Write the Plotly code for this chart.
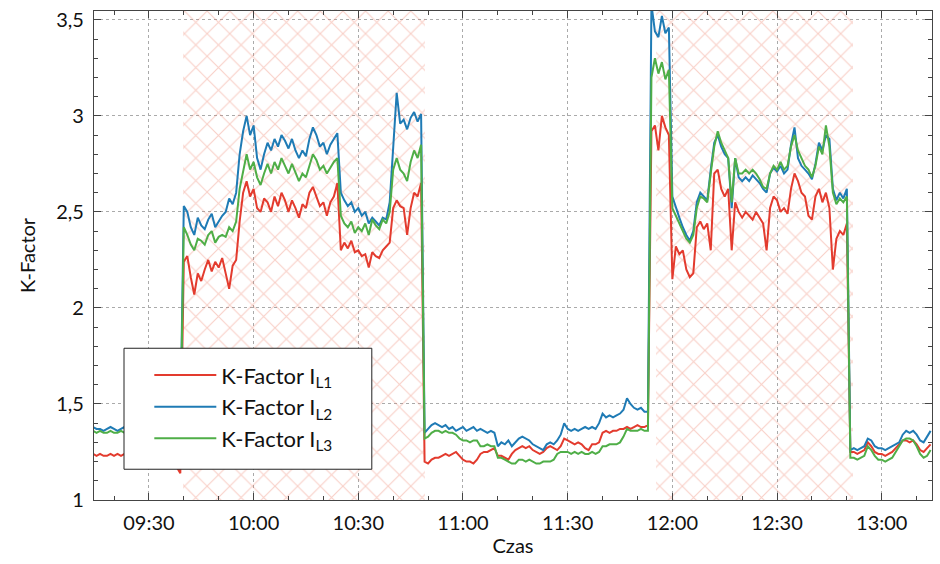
import pandas as pd
import plotly.graph_objects as go

# ---------------- data (one sample per minute, 09:14 .. 13:14) ----------------
start_time = "2021-01-01 09:14"

k_l1 = [
    # 09:14-09:39
    1.24, 1.23, 1.24, 1.23, 1.23, 1.24, 1.23, 1.24, 1.23, 1.24, 1.23, 1.23, 1.24,
    1.23, 1.23, 1.22, 1.23, 1.24, 1.23, 1.22, 1.23, 1.22, 1.21, 1.20, 1.17, 1.14,
    # 09:40-09:55
    2.24, 2.27, 2.16, 2.07, 2.18, 2.14, 2.20, 2.25, 2.19, 2.24, 2.21, 2.26, 2.18, 2.10, 2.22, 2.25,
    # 09:56-10:24
    2.45, 2.60, 2.66, 2.58, 2.62, 2.52, 2.50, 2.57, 2.55, 2.50, 2.58, 2.53, 2.60, 2.56, 2.50,
    2.56, 2.52, 2.47, 2.54, 2.52, 2.60, 2.63, 2.58, 2.53, 2.55, 2.48, 2.55, 2.58, 2.65,
    # 10:25-10:38
    2.30, 2.34, 2.31, 2.35, 2.29, 2.30, 2.27, 2.28, 2.21, 2.29, 2.27, 2.26, 2.30, 2.32,
    # 10:39-10:48
    2.34, 2.52, 2.56, 2.53, 2.52, 2.38, 2.52, 2.60, 2.58, 2.65,
    # 10:49-11:53
    1.20, 1.19, 1.21, 1.22, 1.22, 1.23, 1.24, 1.23, 1.24, 1.25, 1.23,
    1.21, 1.20, 1.20, 1.19, 1.21, 1.24, 1.25, 1.25, 1.26, 1.27,
    1.23, 1.23, 1.22, 1.21, 1.24, 1.26, 1.27, 1.28, 1.27, 1.28,
    1.26, 1.25, 1.24, 1.25, 1.27, 1.28, 1.27, 1.26, 1.28, 1.32,
    1.31, 1.30, 1.29, 1.30, 1.29, 1.27, 1.26, 1.29, 1.29, 1.30,
    1.35, 1.36, 1.35, 1.36, 1.36, 1.37, 1.37, 1.38, 1.37, 1.38,
    1.39, 1.38, 1.38, 1.39,
    # 11:54-11:59
    2.92, 2.95, 2.82, 3.00, 2.94, 2.90,
    # 12:00-12:50
    2.15, 2.32, 2.28, 2.30, 2.20, 2.16, 2.18, 2.42, 2.45, 2.41,
    2.44, 2.30, 2.70, 2.72, 2.62, 2.58, 2.62, 2.30, 2.55, 2.50,
    2.47, 2.50, 2.48, 2.46, 2.50, 2.47, 2.44, 2.30, 2.52, 2.58,
    2.56, 2.50, 2.52, 2.49, 2.62, 2.70, 2.66, 2.60, 2.58, 2.48,
    2.46, 2.58, 2.62, 2.55, 2.60, 2.52, 2.20, 2.36, 2.40, 2.38,
    2.44,
    # 12:51-13:14
    1.25, 1.25, 1.24, 1.25, 1.26, 1.30, 1.28, 1.25, 1.24, 1.24, 1.23, 1.24,
    1.25, 1.27, 1.29, 1.31, 1.31, 1.30, 1.31, 1.29, 1.26, 1.25, 1.27, 1.29,
]

k_l2 = [
    # 09:14-09:39
    1.38, 1.37, 1.37, 1.36, 1.37, 1.38, 1.37, 1.36, 1.37, 1.38, 1.37, 1.37, 1.36,
    1.37, 1.38, 1.37, 1.36, 1.37, 1.37, 1.38, 1.37, 1.36, 1.37, 1.37, 1.36, 1.37,
    # 09:40-09:55
    2.53, 2.50, 2.42, 2.38, 2.47, 2.43, 2.41, 2.46, 2.49, 2.42, 2.45, 2.48, 2.50, 2.57, 2.54, 2.60,
    # 09:56-10:24
    2.80, 2.92, 3.00, 2.90, 2.95, 2.78, 2.72, 2.80, 2.86, 2.82, 2.88, 2.84, 2.90, 2.87, 2.83,
    2.88, 2.82, 2.78, 2.82, 2.79, 2.88, 2.94, 2.90, 2.84, 2.86, 2.80, 2.85, 2.88, 2.91,
    # 10:25-10:38
    2.60, 2.56, 2.53, 2.55, 2.50, 2.52, 2.48, 2.50, 2.44, 2.47, 2.45, 2.43, 2.47, 2.46,
    # 10:39-10:48
    2.55, 2.85, 3.12, 2.96, 2.98, 2.93, 2.99, 3.02, 2.97, 3.01,
    # 10:49-11:53
    1.35, 1.37, 1.39, 1.40, 1.39, 1.38, 1.39, 1.37, 1.38, 1.36, 1.37,
    1.38, 1.36, 1.37, 1.38, 1.36, 1.37, 1.36, 1.35, 1.36, 1.35,
    1.28, 1.30, 1.29, 1.31, 1.28, 1.30, 1.32, 1.33, 1.32, 1.31,
    1.29, 1.28, 1.27, 1.26, 1.29, 1.30, 1.29, 1.31, 1.34, 1.40,
    1.37, 1.36, 1.37, 1.36, 1.37, 1.38, 1.37, 1.38, 1.37, 1.40,
    1.45, 1.43, 1.44, 1.43, 1.44, 1.45, 1.47, 1.53, 1.50, 1.48,
    1.47, 1.48, 1.46, 1.46,
    # 11:54-11:59
    3.58, 3.44, 3.41, 3.52, 3.43, 3.46,
    # 12:00-12:50
    2.58, 2.52, 2.47, 2.42, 2.38, 2.35, 2.40, 2.55, 2.60, 2.58,
    2.56, 2.72, 2.86, 2.90, 2.84, 2.80, 2.78, 2.52, 2.78, 2.68,
    2.66, 2.68, 2.66, 2.69, 2.67, 2.65, 2.62, 2.60, 2.70, 2.73,
    2.71, 2.74, 2.70, 2.72, 2.85, 2.94, 2.78, 2.74, 2.72, 2.70,
    2.67, 2.75, 2.86, 2.82, 2.90, 2.88, 2.62, 2.56, 2.60, 2.57,
    2.62,
    # 12:51-13:14
    1.26, 1.27, 1.26, 1.27, 1.28, 1.32, 1.31, 1.28, 1.27, 1.27, 1.26, 1.27,
    1.28, 1.29, 1.30, 1.34, 1.36, 1.35, 1.36, 1.34, 1.31, 1.30, 1.33, 1.36,
]

k_l3 = [
    # 09:14-09:39
    1.36, 1.35, 1.36, 1.35, 1.35, 1.36, 1.35, 1.35, 1.36, 1.35, 1.35, 1.36, 1.35,
    1.35, 1.36, 1.35, 1.35, 1.34, 1.35, 1.36, 1.35, 1.35, 1.34, 1.35, 1.35, 1.34,
    # 09:40-09:55
    2.42, 2.38, 2.33, 2.30, 2.36, 2.35, 2.33, 2.38, 2.40, 2.34, 2.37, 2.38, 2.37, 2.42, 2.40, 2.45,
    # 09:56-10:24
    2.62, 2.72, 2.80, 2.72, 2.76, 2.68, 2.64, 2.70, 2.75, 2.70, 2.76, 2.72, 2.78, 2.74, 2.70,
    2.75, 2.70, 2.66, 2.70, 2.68, 2.74, 2.80, 2.77, 2.72, 2.74, 2.70, 2.73, 2.76, 2.78,
    # 10:25-10:38
    2.48, 2.44, 2.42, 2.45, 2.39, 2.42, 2.40, 2.44, 2.38, 2.46, 2.43, 2.41, 2.46, 2.44,
    # 10:39-10:48
    2.50, 2.72, 2.78, 2.72, 2.70, 2.66, 2.76, 2.82, 2.78, 2.85,
    # 10:49-11:53
    1.32, 1.33, 1.35, 1.36, 1.36, 1.35, 1.36, 1.35, 1.35, 1.34, 1.32,
    1.31, 1.31, 1.30, 1.31, 1.31, 1.28, 1.28, 1.29, 1.28, 1.28,
    1.22, 1.22, 1.21, 1.20, 1.19, 1.19, 1.21, 1.21, 1.20, 1.21,
    1.20, 1.19, 1.19, 1.20, 1.20, 1.20, 1.21, 1.24, 1.25, 1.25,
    1.25, 1.24, 1.25, 1.24, 1.25, 1.24, 1.24, 1.25, 1.24, 1.25,
    1.28, 1.28, 1.29, 1.29, 1.29, 1.30, 1.33, 1.37, 1.36, 1.36,
    1.36, 1.37, 1.36, 1.36,
    # 11:54-11:59
    3.20, 3.30, 3.22, 3.28, 3.19, 3.24,
    # 12:00-12:50
    2.52, 2.48, 2.44, 2.40, 2.36, 2.34, 2.38, 2.52, 2.58, 2.57,
    2.55, 2.70, 2.84, 2.92, 2.86, 2.82, 2.78, 2.55, 2.78, 2.70,
    2.70, 2.72, 2.70, 2.72, 2.70, 2.67, 2.63, 2.62, 2.70, 2.74,
    2.72, 2.76, 2.72, 2.74, 2.84, 2.90, 2.82, 2.78, 2.74, 2.72,
    2.68, 2.74, 2.84, 2.80, 2.95, 2.84, 2.60, 2.54, 2.57, 2.55,
    2.58,
    # 12:51-13:14
    1.22, 1.22, 1.21, 1.22, 1.23, 1.28, 1.26, 1.23, 1.21, 1.21, 1.20, 1.21,
    1.22, 1.25, 1.28, 1.31, 1.32, 1.32, 1.31, 1.28, 1.24, 1.22, 1.23, 1.26,
]

series_names = ["K-Factor I<sub>L1</sub>", "K-Factor I<sub>L2</sub>", "K-Factor I<sub>L3</sub>"]
series_colors = ["#e33b2e", "#1f7bb5", "#4fae47"]

# hatched intervals
hatch_start = ["2021-01-01 09:39:50", "2021-01-01 11:55:13"]
hatch_end = ["2021-01-01 10:49:10", "2021-01-01 12:51:45"]

y_ticks = [1, 1.5, 2, 2.5, 3, 3.5]
y_ticklabels = ["1", "1,5", "2", "2,5", "3", "3,5"]
x_range = ["2021-01-01 09:14:16", "2021-01-01 13:14:24"]
y_range = [1.0, 3.546]

# ---------------- figure ----------------
n = len(k_l1)
assert len(k_l2) == n and len(k_l3) == n, (len(k_l1), len(k_l2), len(k_l3))
times = pd.date_range(start=start_time, periods=n, freq="min")

fig = go.Figure()

hs = pd.to_datetime(hatch_start)
he = pd.to_datetime(hatch_end)
centers = hs + (he - hs) / 2
widths = [(e - s).total_seconds() * 1000 for s, e in zip(hs, he)]
fig.add_trace(go.Bar(
    x=centers, y=[y_range[1] - y_range[0]] * len(centers), base=y_range[0],
    width=widths, showlegend=False, hoverinfo="skip",
    marker=dict(color="rgba(255,255,255,0)", line=dict(width=0),
                pattern=dict(shape="x", fgcolor="rgba(236,120,95,0.7)",
                             bgcolor="rgba(255,255,255,0)", size=16, solidity=0.13)),
))

for vals, name, col in zip([k_l1, k_l2, k_l3], series_names, series_colors):
    fig.add_trace(go.Scatter(x=times, y=vals, mode="lines", name=name,
                             line=dict(color=col, width=2)))

axis_common = dict(
    showline=True, linecolor="#444", linewidth=1.2, mirror="allticks",
    ticks="inside", ticklen=7, tickcolor="#444", tickwidth=1,
    showgrid=True, gridcolor="#aaaaaa", griddash="dot", gridwidth=1,
    zeroline=False, tickfont=dict(size=20, color="#111"),
)

fig.update_xaxes(
    **axis_common, type="date", range=x_range, tickformat="%H:%M",
    tick0="2021-01-01 09:00", dtick=30 * 60 * 1000, ticklabelstandoff=5,
    minor=dict(ticks="inside", ticklen=4, tickcolor="#444", dtick=10 * 60 * 1000, showgrid=False),
    title=dict(text="Czas", font=dict(size=20, color="#111"), standoff=5),
)
fig.update_yaxes(
    **axis_common, range=y_range, tickvals=y_ticks, ticktext=y_ticklabels,
    ticklabelstandoff=5,
    minor=dict(ticks="inside", ticklen=4, tickcolor="#444", dtick=0.1, tick0=1, showgrid=False),
    title=dict(text="K-Factor", font=dict(size=20, color="#111"), standoff=15),
)

# legend frame (white box hiding lines behind the legend)
fig.add_shape(type="rect", xref="paper", yref="paper",
              x0=0.0358, x1=0.3315, y0=0.0629, y1=0.3103,
              fillcolor="white", line=dict(color="#222", width=1), layer="above")

fig.update_layout(
    width=940, height=564,
    margin=dict(l=94, r=7, t=7, b=64),
    plot_bgcolor="white", paper_bgcolor="white",
    font=dict(family="Lato, 'Noto Sans', sans-serif", size=20, color="#111"),
    separators=",.",
    barmode="overlay", bargap=0,
    legend=dict(x=0.066, y=0.298, xanchor="left", yanchor="top",
                bgcolor="rgba(0,0,0,0)", borderwidth=0,
                font=dict(size=22), itemwidth=62),
    showlegend=True,
)

fig.write_html("out.html")
